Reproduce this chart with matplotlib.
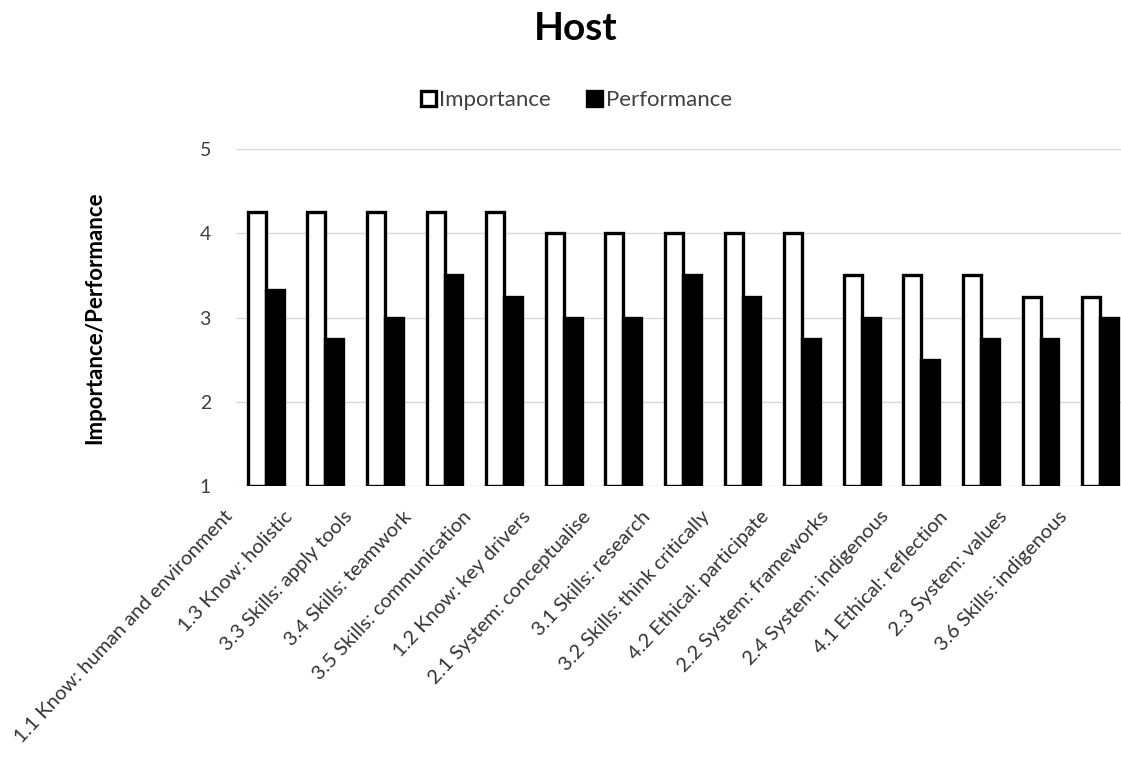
import numpy as np
import matplotlib.pyplot as plt
from matplotlib.transforms import ScaledTranslation

plt.rcParams['font.family'] = ['Lato', 'DejaVu Sans']

categories = ['1.1 Know: human and environment', '1.3 Know: holistic', '3.3 Skills: apply tools',
              '3.4 Skills: teamwork', '3.5 Skills: communication', '1.2 Know: key drivers',
              '2.1 System: conceptualise', '3.1 Skills: research', '3.2 Skills: think critically',
              '4.2 Ethical: participate', '2.2 System: frameworks', '2.4 System: indigenous',
              '4.1 Ethical: reflection', '2.3 System: values', '3.6 Skills: indigenous']
importance = [4.25, 4.25, 4.25, 4.25, 4.25, 4.0, 4.0, 4.0, 4.0, 4.0, 3.5, 3.5, 3.5, 3.25, 3.25]
performance = [3.33, 2.75, 3.0, 3.5, 3.25, 3.0, 3.0, 3.5, 3.25, 2.75, 3.0, 2.5, 2.75, 2.75, 3.0]

fig = plt.figure(figsize=(11.21, 7.65), dpi=100)
ax = fig.add_axes([0.2105, 0.3647, 0.7895, 0.4403])

x = np.arange(len(categories))
w = 0.3
ax.bar(x - w / 2, np.array(importance) - 1, w, bottom=1, color='white', edgecolor='black',
       linewidth=2.4, label='Importance', zorder=3)
ax.bar(x + w / 2, np.array(performance) - 1, w, bottom=1, color='black', edgecolor='black',
       linewidth=2.4, label='Performance', zorder=3)

ax.set_ylim(1, 5)
ax.set_xlim(-0.5, 14.35)
ax.set_yticks([1, 2, 3, 4, 5])
ax.yaxis.grid(True, color='#d9d9d9', linewidth=1)
ax.set_axisbelow(True)
for s in ax.spines.values():
    s.set_visible(False)
ax.tick_params(length=0, labelsize=14, colors='#404040')
ax.tick_params(axis='y', pad=18)

ax.set_xticks(x)
ax.set_xticklabels(categories, rotation=47, ha='right', rotation_mode='anchor', fontsize=14.5,
                   color='#333333')
offset = ScaledTranslation(-0.42, -0.17, fig.dpi_scale_trans)
for lab in ax.get_xticklabels():
    lab.set_transform(lab.get_transform() + offset)

ax.set_ylabel('Importance/Performance', fontsize=16, fontweight='bold', labelpad=68)

fig.suptitle('Host', fontsize=28, fontweight='bold', y=0.985, x=0.514)
fig.legend(loc='center', bbox_to_anchor=(0.514, 0.869), ncol=2, frameon=False, fontsize=16,
           handlelength=0.7, handleheight=0.7, handletextpad=0.15, columnspacing=1.6,
           labelcolor='#404040')

fig.savefig('out.png', dpi=100)
